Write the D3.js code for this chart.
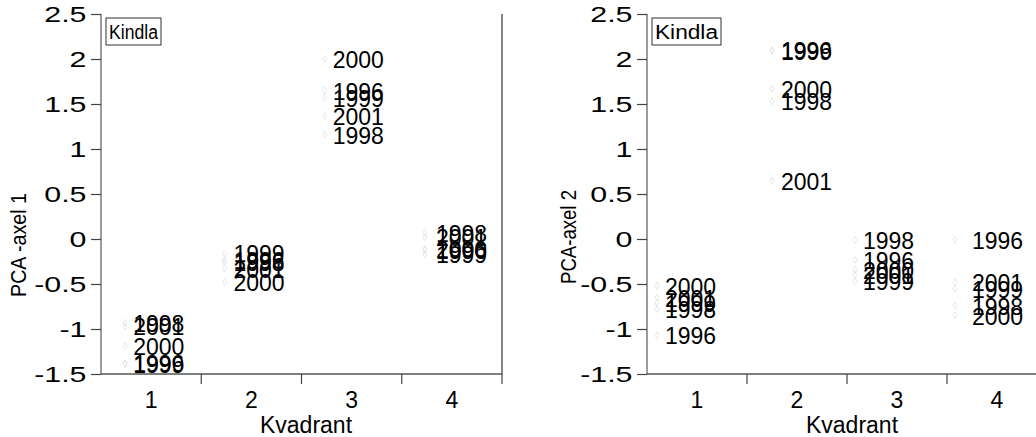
<!DOCTYPE html>
<html>
<head>
<meta charset="utf-8">
<script src="https://cdn.jsdelivr.net/npm/d3@7"></script>
<style>
  html, body { margin: 0; padding: 0; background: #fff; }
  svg { display: block; font-family: Arial, "Liberation Sans", Helvetica, sans-serif; }
</style>
</head>
<body>
<svg id="chart" width="1036" height="437"></svg>
<script>
// Kvadrant categories and y-axis ticks shared by both panels
const quadrants = [1, 2, 3, 4];
const yTicks = [-1.5, -1, -0.5, 0, 0.5, 1, 1.5, 2, 2.5];
const siteName = "Kindla";

// PCA axis 1 scores per quadrant and year
const pca1Quadrant = [1, 1, 1, 1, 1, 2, 2, 2, 2, 2, 3, 3, 3, 3, 3, 4, 4, 4, 4, 4];
const pca1Year     = [1998, 2001, 2000, 1996, 1999, 1999, 1996, 1998, 2001, 2000,
                      2000, 1996, 1999, 2001, 1998, 1998, 2001, 2000, 1996, 1999];
const pca1Score    = [-0.93, -0.97, -1.19, -1.38, -1.39, -0.16, -0.23, -0.26, -0.33, -0.48,
                      2.0, 1.65, 1.57, 1.37, 1.16, 0.07, 0.02, -0.11, -0.12, -0.17];

// PCA axis 2 scores per quadrant and year
const pca2Quadrant = [1, 1, 1, 1, 1, 2, 2, 2, 2, 2, 3, 3, 3, 3, 3, 4, 4, 4, 4, 4];
const pca2Year     = [2000, 2001, 1999, 1998, 1996, 1996, 1999, 2000, 1998, 2001,
                      1998, 1996, 2000, 2001, 1999, 1996, 2001, 1999, 1998, 2000];
const pca2Score    = [-0.52, -0.65, -0.71, -0.78, -1.07, 2.10, 2.09, 1.67, 1.53, 0.65,
                      -0.01, -0.23, -0.34, -0.40, -0.47, -0.01, -0.48, -0.55, -0.74, -0.85];

const svg = d3.select("#chart");
const FONT = 23;
const TICK_STRETCH = 1.38;   // y tick labels are set wide

const panels = [
  { left: 101, right: 502, title: "PCA -axel 1", titleX: 18, titleY: 245, titleLen: 104, border: true,
    quadrant: pca1Quadrant, year: pca1Year, score: pca1Score,
    // text start relative to band centre, and marker position relative to text start
    labelShift: [-18, -18, -19, -16], markerGap: [-8, -9, -8, -11],
    boxX: 106, boxW: 55, kvadrantX: 306 },
  { left: 647, right: 1047, title: "PCA-axel 2", titleX: 568, titleY: 237, titleLen: 94, border: false,
    quadrant: pca2Quadrant, year: pca2Year, score: pca2Score,
    labelShift: [-32, -16, -34, -25], markerGap: [-8, -9, -8, -17],
    boxX: 652, boxW: 69, kvadrantX: 852 }
];

const plotTop = 14, plotBottom = 374;

panels.forEach(p => {
  const x = d3.scaleBand().domain(quadrants).range([p.left, p.right]).paddingInner(0).paddingOuter(0);
  const y = d3.scaleLinear().domain([-1.5, 2.5]).range([plotBottom, plotTop]);
  const g = svg.append("g");

  // y axis
  const yAxis = d3.axisLeft(y).tickValues(yTicks).tickSize(10).tickPadding(4)
    .tickFormat(d => String(d));
  const ya = g.append("g").attr("transform", `translate(${p.left},0)`).call(yAxis);
  ya.select(".domain").attr("stroke", "#666").attr("stroke-width", 1.3).attr("d", `M0,${plotTop}V${plotBottom}`);
  ya.selectAll(".tick line").attr("stroke", "#444").attr("stroke-width", 1.2);
  ya.selectAll(".tick text").attr("font-size", 22).attr("fill", "#000")
    .attr("font-family", "Arial, 'Liberation Sans', sans-serif").attr("dy", "0.36em")
    .attr("x", -14.5 / TICK_STRETCH).attr("transform", `scale(${TICK_STRETCH},1)`);

  // x axis: ticks at band boundaries, labels at band centres
  const bounds = quadrants.slice(1).map(q => x(q)).concat([p.right]);
  g.append("line").attr("x1", p.left).attr("x2", p.right).attr("y1", plotBottom).attr("y2", plotBottom)
    .attr("stroke", "#555").attr("stroke-width", 1.3);
  g.selectAll(".xtick").data(bounds).join("line")
    .attr("x1", d => d).attr("x2", d => d).attr("y1", plotBottom).attr("y2", plotBottom + 10)
    .attr("stroke", "#444").attr("stroke-width", 1.2);
  g.selectAll(".xlab").data(quadrants).join("text")
    .attr("x", d => x(d) + x.bandwidth() / 2).attr("y", plotBottom + 34)
    .attr("text-anchor", "middle").attr("font-size", FONT).text(d => d);
  g.append("text").attr("x", p.kvadrantX).attr("y", plotBottom + 59)
    .attr("text-anchor", "middle").attr("font-size", FONT).text("Kvadrant");

  if (p.border) {
    g.append("line").attr("x1", p.right).attr("x2", p.right).attr("y1", plotTop).attr("y2", plotBottom)
      .attr("stroke", "#444").attr("stroke-width", 1.3);
  }

  // y-axis title
  g.append("text")
    .attr("transform", `translate(${p.titleX + 8},${p.titleY}) rotate(-90)`)
    .attr("text-anchor", "middle").attr("font-size", 22)
    .attr("textLength", p.titleLen).attr("lengthAdjust", "spacingAndGlyphs").text(p.title);

  // site box
  const box = g.append("g");
  box.append("rect").attr("x", p.boxX).attr("y", plotTop + 4).attr("width", p.boxW).attr("height", 27)
    .attr("fill", "#fff").attr("stroke", "#333").attr("stroke-width", 1);
  box.append("text").attr("x", p.boxX + 3).attr("y", plotTop + 25)
    .attr("font-size", 20).attr("textLength", p.boxW - 6).attr("lengthAdjust", "spacingAndGlyphs")
    .text(siteName);

  // points with year labels
  const rows = p.score.map((s, i) => ({ q: p.quadrant[i], yr: p.year[i], v: s }));
  const qi = q => quadrants.indexOf(q);
  const textX = d => x(d.q) + x.bandwidth() / 2 + p.labelShift[qi(d.q)];

  g.selectAll(".pt").data(rows).join("path")
    .attr("d", d3.symbol(d3.symbolDiamond, 14))
    .attr("transform", d => `translate(${textX(d) + p.markerGap[qi(d.q)]},${y(d.v)})`)
    .attr("fill", "none").attr("stroke", "#e2e2e2").attr("stroke-width", 0.8);

  g.selectAll(".yr").data(rows).join("text")
    .attr("x", d => textX(d)).attr("y", d => y(d.v) + 9)
    .attr("font-size", FONT).attr("fill", "#000").text(d => d.yr);
});
</script>
</body>
</html>
